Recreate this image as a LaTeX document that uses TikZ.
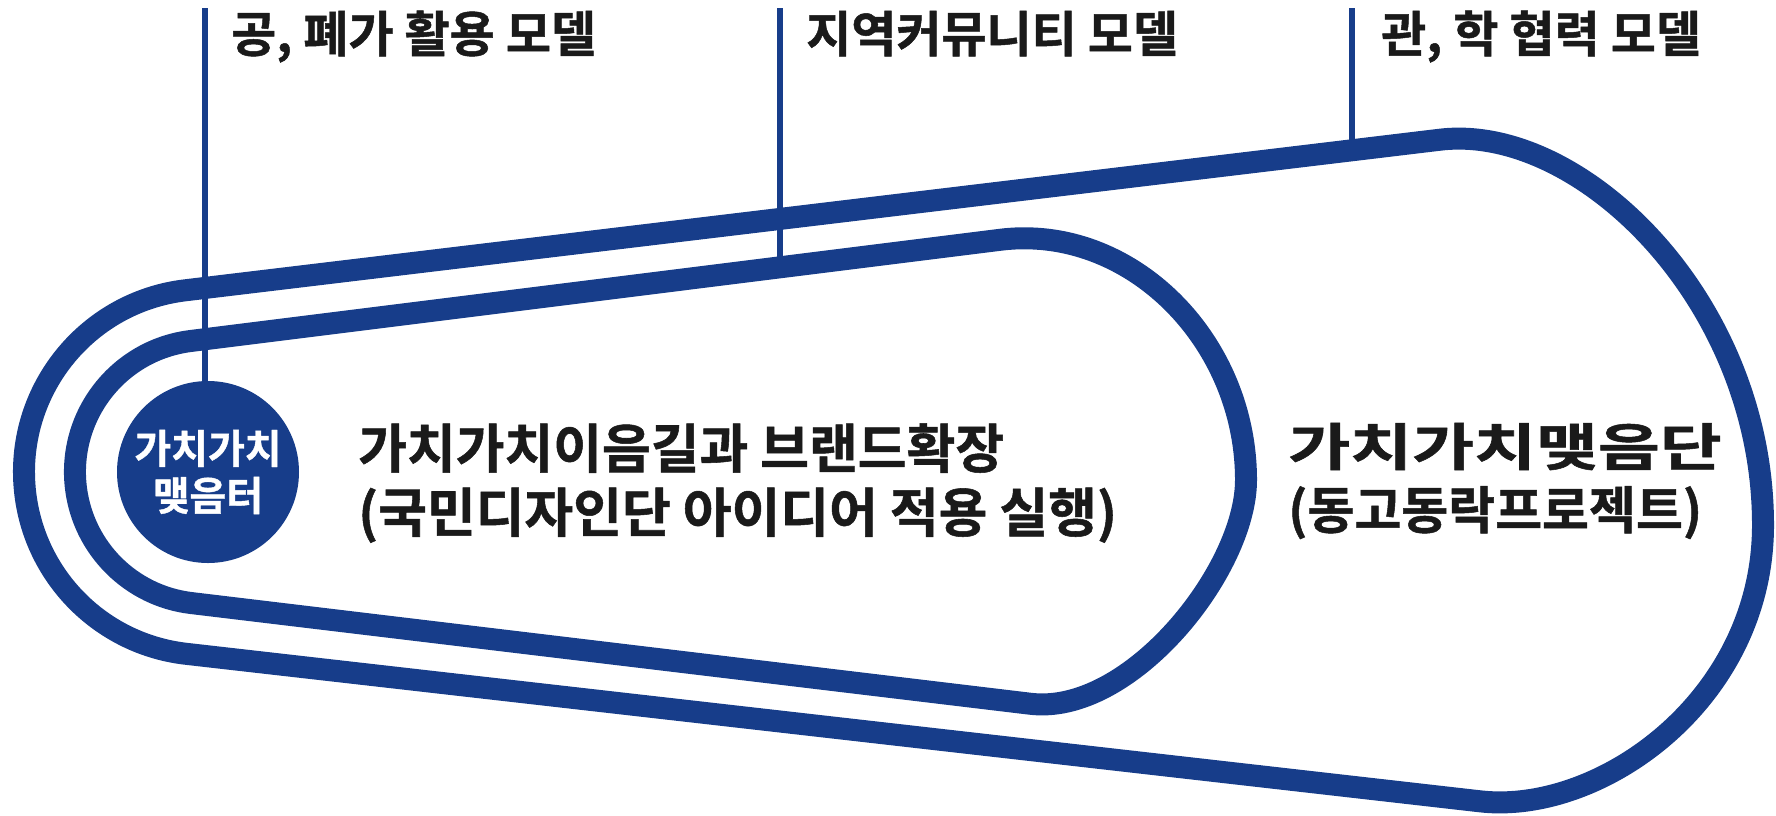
\documentclass[tikz,border=0pt]{standalone}
\usepackage{fontspec}
\newfontfamily\kr{Noto Sans CJK KR}[BoldFont={Noto Sans CJK KR Bold}, BoldFeatures={FakeBold=1}]
\definecolor{navy}{HTML}{173D8A}
\definecolor{ink}{HTML}{1A1A1A}
\tikzset{
  ring/.style={draw=navy, line width=22pt, line join=round},
  leader/.style={draw=navy, line width=6pt},
  toplabel/.style={anchor=base west, inner sep=0pt, text=ink, font=\kr\bfseries\fontsize{49}{55}\selectfont},
  blocklabel/.style={anchor=west, inner sep=0pt, align=left, text=ink, font=\kr\bfseries\fontsize{53}{64}\selectfont},
  hubnode/.style={circle, fill=navy, minimum size=182pt, inner sep=0pt, align=center, text=white, font=\kr\bfseries\fontsize{40}{47}\selectfont}
}
\begin{document}
\begin{tikzpicture}[x=1pt, y=-1pt]
\useasboundingbox (0,0) rectangle (1776,815);
% outer ring
\draw[ring] (185.2,290.3) arc[start angle=263.16, end angle=96.5, radius=183]
  -- (1480,801.3) .. controls (1600,815) and (1763,700) .. (1763,525)
  .. controls (1763,300) and (1580,122.9) .. (1440,139.7) -- cycle;
% inner ring
\draw[ring] (190.6,341) arc[start angle=262.875, end angle=96.84, radius=132]
  -- (1030,703.7) .. controls (1130,716) and (1246,570) .. (1246,480)
  .. controls (1246,340) and (1130,223.5) .. (1000,239.8) -- cycle;
% hub
\node[hubnode] (hub) at (208,472) {가치가치\\맺음터};
% leader ends
\coordinate (t1) at (205,8);
\coordinate (t2) at (780,8);
\coordinate (t3) at (1352,8);
\coordinate (e2) at (780,267.3);
\coordinate (e3) at (1352,150.3);
\draw[leader] (t1) -- (t1 |- hub.north);
\draw[leader] (t2) -- (e2);
\draw[leader] (t3) -- (e3);
% labels
\node[toplabel] (l1) at (231,52) {공, 폐가 활용 모델};
\node[toplabel] (l2) at (806,52) {지역커뮤니티 모델};
\node[toplabel] (l3) at (1381,52) {관, 학 협력 모델};
\node[blocklabel] (mid) at (358,483) {가치가치이음길과 브랜드확장\\(국민디자인단 아이디어 적용 실행)};
\node[blocklabel, font=\kr\bfseries\fontsize{51}{63}\selectfont] (right) at (1288,481) {\scalebox{1.32}[1]{가치가치맺음단}\\(동고동락프로젝트)};
\end{tikzpicture}
\end{document}
